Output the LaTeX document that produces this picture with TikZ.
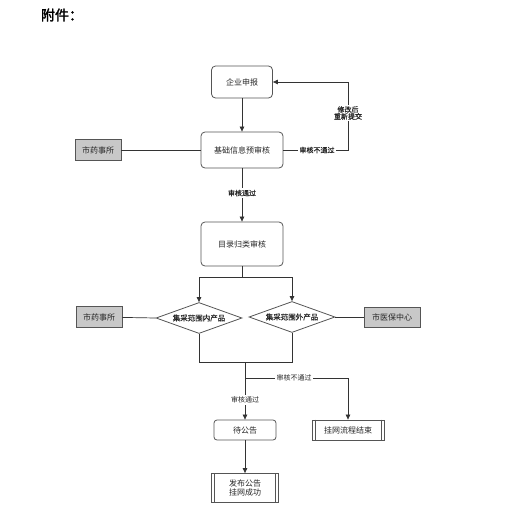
\documentclass[tikz,border=0pt]{standalone}
\usepackage{fontspec}
\setmainfont{Noto Sans CJK SC}
\newfontfamily\cjkb[FakeBold=0.8]{Noto Sans CJK SC}
\newfontfamily\cjkt[FakeBold=2]{Noto Sans CJK SC}
\usetikzlibrary{arrows.meta,shapes.geometric,calc}
\definecolor{edge}{HTML}{555555}
\definecolor{grayfill}{HTML}{C8C8C8}
\begin{document}
\begin{tikzpicture}[x=1pt,y=-1pt,
  every node/.style={font=\fontsize{8}{9.5}\selectfont, text=black!85},
  rbox/.style={draw=edge, line width=0.8pt, rounded corners=4pt, inner sep=0pt},
  gbox/.style={draw=edge, line width=0.8pt, fill=grayfill, inner sep=0pt, minimum width=46pt, minimum height=21pt},
  dia/.style={draw=edge, line width=0.8pt, diamond, aspect=2.9, inner sep=0pt, minimum width=86pt, minimum height=31pt, font=\fontsize{7.5}{9}\selectfont\cjkb},
  pbox/.style={draw=edge, line width=0.8pt, inner sep=0pt, align=center},
  lbl/.style={fill=white, inner sep=1.5pt, font=\fontsize{7}{8.5}\selectfont\cjkb, align=center},
  conn/.style={draw=black!80, line width=0.7pt},
  arr/.style={conn, -{Triangle[length=5pt,width=4.5pt]}}
]
\useasboundingbox (0,0) rectangle (523,525);
\node[font=\fontsize{14}{16}\selectfont\cjkt, text=black] (title) at (62,15) {附件：};

\node[rbox, minimum width=61pt, minimum height=32pt] (qy) at (242,82) {企业申报};
\node[rbox, minimum width=82pt, minimum height=36pt] (jc) at (242,150) {基础信息预审核};
\node[gbox] (sy1) at (98,150) {市药事所};
\node[rbox, minimum width=82pt, minimum height=44pt] (ml) at (242,244) {目录归类审核};
\node[dia] (d1) at (199,318) {集采范围内产品};
\node[dia] (d2) at (292,317) {集采范围外产品};
\node[gbox] (sy2) at (99,317) {市药事所};
\node[gbox, minimum width=56pt, minimum height=20pt] (yb) at (392,317) {市医保中心};
\node[rbox, rounded corners=3pt, minimum width=62pt, minimum height=20pt] (dgg) at (245,430) {待公告};
\node[pbox, minimum width=72pt, minimum height=20pt] (gw) at (348,430) {挂网流程结束};
\node[pbox, minimum width=67pt, minimum height=29pt] (fb) at (245,488) {发布公告\\[-1pt]挂网成功};
\foreach \n in {gw,fb}{
  \draw[edge, line width=0.6pt] ($(\n.north west)+(3.5,0)$) -- ($(\n.south west)+(3.5,0)$);
  \draw[edge, line width=0.6pt] ($(\n.north east)+(-3.5,0)$) -- ($(\n.south east)+(-3.5,0)$);
}

% connectors
\draw[arr] (qy) -- (jc);
\draw[conn] (sy1) -- (jc);
\coordinate (r1) at (348,150);
\coordinate (r2) at (348,82);
\draw[arr] (jc.east) -- (r1) -- (r2) -- (qy.east);
\node[lbl] (l1) at (317,150) {审核不通过};
\node[lbl] (l2) at (348,113) {修改后\\[-1.5pt]重新提交};

\draw[arr] (jc) -- (ml);
\node[lbl] (l3) at (242,193) {审核通过};

\coordinate (s0) at (242,277);
\coordinate (s1) at (199,277);
\coordinate (s2) at (292,277);
\draw[conn] (ml.south) -- (s0);
\draw[conn] (s1) -- (s2);
\draw[arr] (s1) -- (d1.north);
\draw[arr] (s2) -- (d2.north);
\draw[conn] (sy2) -- (d1.west);
\draw[conn] (d2.east) -- (yb);

\coordinate (m1) at (199,362);
\coordinate (m2) at (292,362);
\coordinate (m0) at (245,362);
\draw[conn] (d1.south) -- (m1) -- (m2) -- (d2.south);
\coordinate (b0) at (245,378);
\coordinate (b1) at (348,378);
\draw[arr] (m0) -- (dgg.north);
\draw[arr] (b0) -- (b1) -- (gw.north);
\node[lbl, font=\fontsize{7}{8.5}\selectfont] (l4) at (294,378) {审核不通过};
\node[lbl, font=\fontsize{7}{8.5}\selectfont] (l5) at (245,400) {审核通过};
\draw[arr] (dgg) -- (fb);
\end{tikzpicture}
\end{document}
